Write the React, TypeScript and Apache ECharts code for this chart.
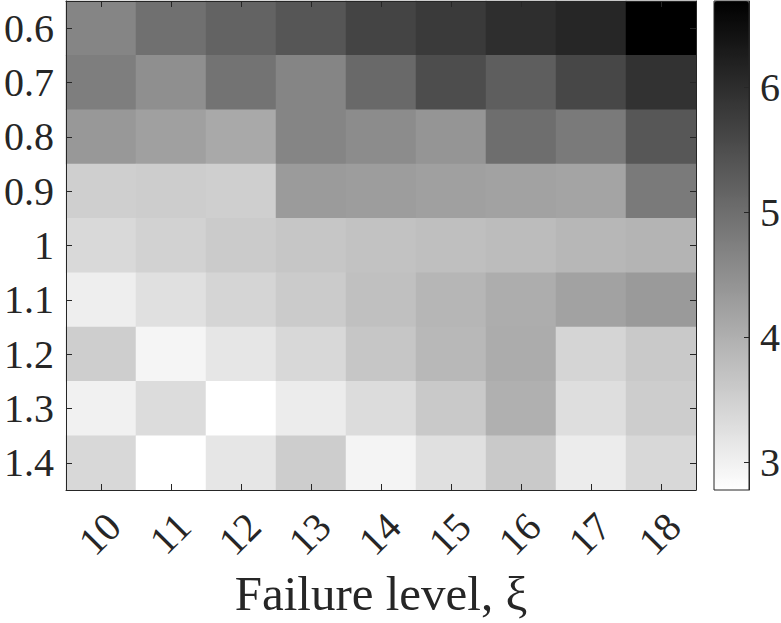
import React, { useEffect, useRef } from "react";
import * as echarts from "echarts";

const xLabels = ["10", "11", "12", "13", "14", "15", "16", "17", "18"];
const yLabels = ["0.6", "0.7", "0.8", "0.9", "1", "1.1", "1.2", "1.3", "1.4"];

const row06 = [4.65, 4.97, 5.17, 5.37, 5.65, 5.8, 5.98, 6.11, 6.69];
const row07 = [4.76, 4.5, 4.93, 4.65, 5.08, 5.51, 5.25, 5.6, 5.92];
const row08 = [4.36, 4.24, 4.1, 4.65, 4.54, 4.41, 5.0, 4.82, 5.36];
const row09 = [3.52, 3.55, 3.52, 4.31, 4.28, 4.24, 4.2, 4.17, 4.82];
const row10 = [3.36, 3.47, 3.58, 3.65, 3.71, 3.76, 3.81, 3.88, 3.93];
const row11 = [3.04, 3.26, 3.42, 3.58, 3.75, 3.9, 4.04, 4.2, 4.33];
const row12 = [3.53, 2.93, 3.16, 3.38, 3.65, 3.87, 4.05, 3.42, 3.61];
const row13 = [2.99, 3.32, 2.78, 3.07, 3.32, 3.61, 3.99, 3.29, 3.55];
const row14 = [3.38, 2.78, 3.16, 3.55, 2.95, 3.26, 3.61, 3.07, 3.38];

const rows = [row06, row07, row08, row09, row10, row11, row12, row13, row14];

const colorMin = 2.78;
const colorMax = 6.69;

const FONT = "Liberation Serif";
const TXT = "#262626";

export default function App() {
  const ref = useRef<HTMLDivElement>(null);

  useEffect(() => {
    if (!ref.current) return;
    const chart = echarts.init(ref.current, null, { renderer: "svg" });

    const data: [number, number, number][] = [];
    rows.forEach((row, r) => row.forEach((v, c) => data.push([c, r, v])));

    const lineStyle = { color: TXT, width: 1 };

    chart.setOption({
      animation: false,
      backgroundColor: "#ffffff",
      textStyle: { fontFamily: FONT, color: TXT },
      grid: [
        {
          left: 66,
          top: 1,
          width: 630,
          height: 489,
          containLabel: false,
          outerBoundsMode: "none",
        },
        {
          left: 714,
          top: 1,
          width: 35,
          height: 489,
          show: true,
          z: 10,
          backgroundColor: "transparent",
          borderColor: TXT,
          borderWidth: 1,
          containLabel: false,
          outerBoundsMode: "none",
        },
      ],
      xAxis: [
        {
          type: "category",
          gridIndex: 0,
          data: xLabels,
          position: "bottom",
          axisLine: { show: true, lineStyle },
          axisTick: { show: true, inside: true, alignWithLabel: true, length: 6, lineStyle },
          axisLabel: {
            rotate: 45,
            fontSize: 40,
            lineHeight: 36,
            verticalAlign: "top",
            fontFamily: FONT,
            color: TXT,
            margin: 17,
            interval: 0,
          },
          splitLine: { show: false },
          name: "Failure level, ξ",
          nameLocation: "middle",
          nameGap: 76,
          nameTextStyle: { fontSize: 49, fontFamily: FONT, color: TXT },
          z: 5,
        },
        {
          type: "category",
          gridIndex: 0,
          data: xLabels,
          position: "top",
          axisLine: { show: true, lineStyle },
          axisTick: { show: true, inside: true, alignWithLabel: true, length: 6, lineStyle },
          axisLabel: { show: false },
          splitLine: { show: false },
          z: 5,
        },
        {
          type: "category",
          gridIndex: 1,
          data: [""],
          show: false,
        },
      ],
      yAxis: [
        {
          type: "category",
          gridIndex: 0,
          data: yLabels,
          inverse: true,
          position: "left",
          axisLine: { show: true, lineStyle },
          axisTick: { show: true, inside: true, alignWithLabel: true, length: 6, lineStyle },
          axisLabel: { fontSize: 40, fontFamily: FONT, color: TXT, margin: 12, interval: 0 },
          splitLine: { show: false },
          z: 5,
        },
        {
          type: "category",
          gridIndex: 0,
          data: yLabels,
          inverse: true,
          position: "right",
          axisLine: { show: true, lineStyle },
          axisTick: { show: true, inside: true, alignWithLabel: true, length: 6, lineStyle },
          axisLabel: { show: false },
          splitLine: { show: false },
          z: 5,
        },
        {
          type: "value",
          gridIndex: 1,
          min: colorMin,
          max: colorMax,
          position: "right",
          axisLine: { show: true, lineStyle },
          axisTick: { show: true, inside: true, length: 5, lineStyle },
          axisLabel: {
            fontSize: 40,
            fontFamily: FONT,
            color: TXT,
            margin: 11,
            showMinLabel: false,
            showMaxLabel: false,
            formatter: (v: number) =>
              Math.abs(v - Math.round(v)) < 1e-6 ? String(Math.round(v)) : "",
          },
          splitLine: { show: false },
          z: 12,
        },
      ],
      visualMap: {
        type: "continuous",
        min: colorMin,
        max: colorMax,
        seriesIndex: 0,
        calculable: false,
        orient: "vertical",
        left: 714,
        top: 1,
        itemWidth: 35,
        itemHeight: 489,
        padding: 0,
        hoverLink: false,
        inRange: { color: ["#ffffff", "#000000"] },
        z: 1,
      },
      series: [
        {
          type: "heatmap",
          xAxisIndex: 0,
          yAxisIndex: 0,
          data,
          itemStyle: { borderWidth: 0 },
          emphasis: { disabled: true },
          z: 2,
        },
        {
          type: "scatter",
          xAxisIndex: 2,
          yAxisIndex: 2,
          data: [],
          silent: true,
        },
      ],
    });

    return () => chart.dispose();
  }, []);

  return (
    <div
      ref={ref}
      style={{ position: "fixed", left: 0, top: 0, width: 781, height: 623 }}
    />
  );
}
